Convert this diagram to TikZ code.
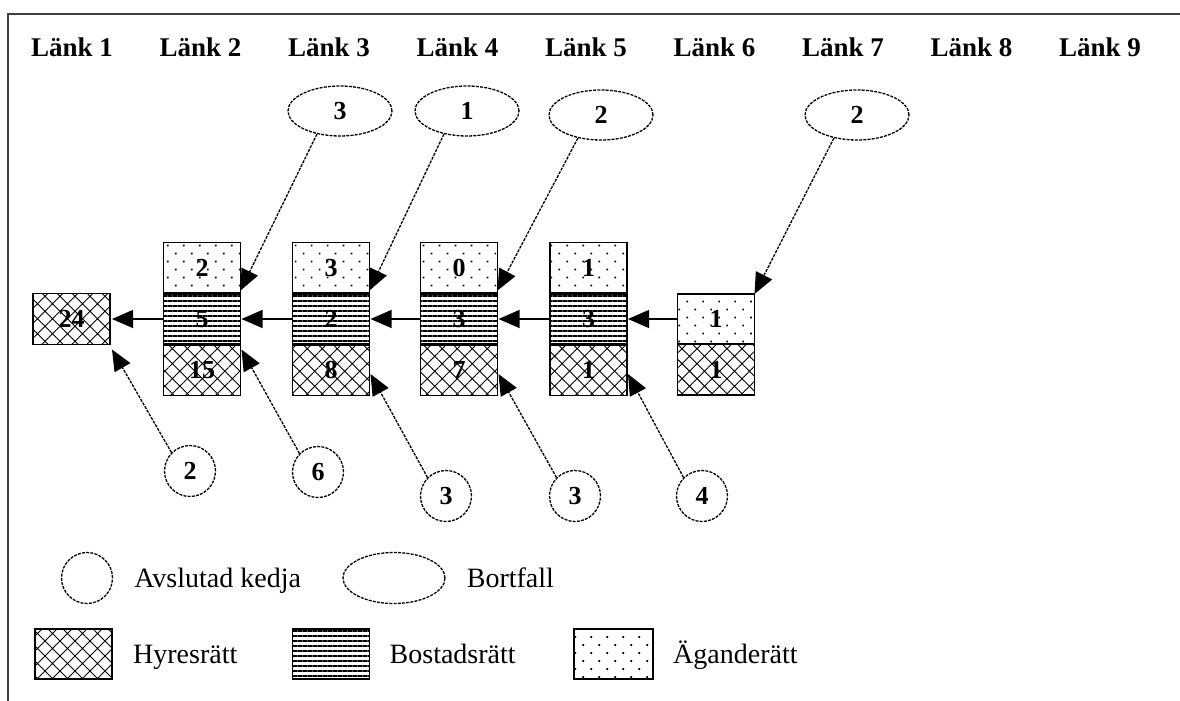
\documentclass[tikz,border=0pt]{standalone}
\usepackage{fontspec}
\setmainfont{Liberation Serif}
\usetikzlibrary{positioning,
        shapes,
        patterns.meta,
        arrows.meta}

\tikzset{
  cell/.style={draw,line width=1.5pt,minimum width=77pt,minimum height=51pt,inner sep=0pt,outer sep=0pt,
    font=\fontsize{26}{26}\selectfont\bfseries},
  hyres/.style={cell,pattern={Hatch[angle=45,distance=10.6pt,line width=0.9pt]}},
  bostad/.style={cell,pattern={Lines[angle=0,distance=5pt,line width=2pt]}},
  agande/.style={cell,pattern={Dots[angle=45,distance=11.3pt,radius=1.2pt]}},
  bortfall/.style={ellipse,draw,line width=1.3pt,dash pattern=on 3pt off 1.2pt,
    minimum width=104pt,minimum height=50pt,inner sep=0pt,font=\fontsize{26}{26}\selectfont\bfseries},
  avslutad/.style={circle,draw,line width=1.3pt,dash pattern=on 3pt off 1.2pt,
    minimum size=51pt,inner sep=0pt,font=\fontsize{26}{26}\selectfont\bfseries},
  flow/.style={-{Triangle[length=21pt,width=18pt]},line width=1.1pt},
  link/.style={flow,line width=1.3pt,dash pattern=on 3pt off 1.2pt},
  head/.style={font=\fontsize{27}{27}\selectfont\bfseries},
  legend/.style={anchor=west,inner sep=0pt,text height=19pt,text depth=1pt,font=\fontsize{28}{28}\selectfont}
}

\begin{document}
\begin{tikzpicture}[x=1pt,y=-1pt]
            \useasboundingbox (0,0) rectangle (1180,701);
            \draw [line width=2pt,black!75] (8,701) -- (8,14) -- (1180,14);

            \foreach \i in {1,...,9}
                \node [head] (lank\i) at ({72+128.5*(\i-1)},47) {Länk \i};

            % the chain, one column per link
            \node [hyres] (b24) at (71.5,319) {24};

            \node [agande] (l2a) at (202,268) {2};
            \node [bostad, below=0pt of l2a] (l2b) {5};
            \node [hyres, below=0pt of l2b] (l2c) {15};

            \node [agande] (l3a) at (331,268) {3};
            \node [bostad, below=0pt of l3a] (l3b) {2};
            \node [hyres, below=0pt of l3b] (l3c) {8};

            \node [agande] (l4a) at (459,268) {0};
            \node [bostad, below=0pt of l4a] (l4b) {3};
            \node [hyres, below=0pt of l4b] (l4c) {7};

            \node [agande] (l5a) at (588.5,268) {1};
            \node [bostad, below=0pt of l5a] (l5b) {3};
            \node [hyres, below=0pt of l5b] (l5c) {1};

            \node [agande, minimum height=50pt] (l6a) at (716,319) {1};
            \node [hyres, below=0pt of l6a] (l6c) {1};

            \foreach \n in {l2b,l3b,l4b,l5b}
                \draw [line width=3.5pt] (\n.north west) -- (\n.north east) (\n.south west) -- (\n.south east);

            % drop-outs
            \node [bortfall] (bort2) at (340,111) {3};
            \node [bortfall] (bort3) at (467,111) {1};
            \node [bortfall] (bort4) at (601,115) {2};
            \node [bortfall] (bort6) at (857,115) {2};

            % ended chains
            \node [avslutad] (slut1) at (190,471) {2};
            \node [avslutad] (slut2) at (318,472) {6};
            \node [avslutad] (slut3) at (446,496) {3};
            \node [avslutad] (slut4) at (575,496) {3};
            \node [avslutad] (slut5) at (702,496) {4};

            \draw [flow] (l2b.west) -- ([xshift=2pt]b24.east);
            \draw [flow] (l3b.west) -- ([xshift=1pt]l2b.east);
            \draw [flow] (l4b.west) -- ([xshift=1pt]l3b.east);
            \draw [flow] (l5b.west) -- ([xshift=1pt]l4b.east);
            \draw [flow] (l6a.west) -- ([xshift=1pt]l5b.east);

            \draw [link] (bort2.225) -- ([yshift=3pt]l2a.south east);
            \draw [link] (bort3.225) -- ([yshift=3pt]l3a.south east);
            \draw [link] (bort4.225) -- ([yshift=3pt]l4a.south east);
            \draw [link] (bort6.225) -- (l6a.north east);

            \draw [link] (slut1.north west) -- ([xshift=2pt,yshift=-5pt]b24.south east);
            \draw [link] (slut2.north west) -- ([xshift=1pt,yshift=-5pt]l2c.north east);
            \draw [link] (slut3.north west) -- ([xshift=1pt,yshift=-4pt]l3c.east);
            \draw [link] (slut4.north west) -- ([xshift=1pt,yshift=-4pt]l4c.east);
            \draw [link] (slut5.north west) -- ([xshift=1pt,yshift=-4pt]l5c.east);

            % legend
            \node [avslutad] (lgc) at (87,578) {};
            \node [legend, right=21pt of lgc] (lgct) {Avslutad kedja};
            \node [bortfall, minimum width=102pt, minimum height=51pt] (lge) at (394,578) {};
            \node [legend, right=21pt of lge] (lget) {Bortfall};

            \node [hyres, minimum height=50pt] (lgh) at (73.5,654) {};
            \node [legend, right=21pt of lgh] (lght) {Hyresrätt};
            \node [bostad, minimum height=50pt] (lgb) at (331,654) {};
            \node [legend, right=20pt of lgb] (lgbt) {Bostadsrätt};
            \node [agande, minimum height=50pt, minimum width=79pt] (lga) at (613.5,654) {};
            \node [legend, right=20pt of lga] (lgat) {Äganderätt};
        \end{tikzpicture}
\end{document}
